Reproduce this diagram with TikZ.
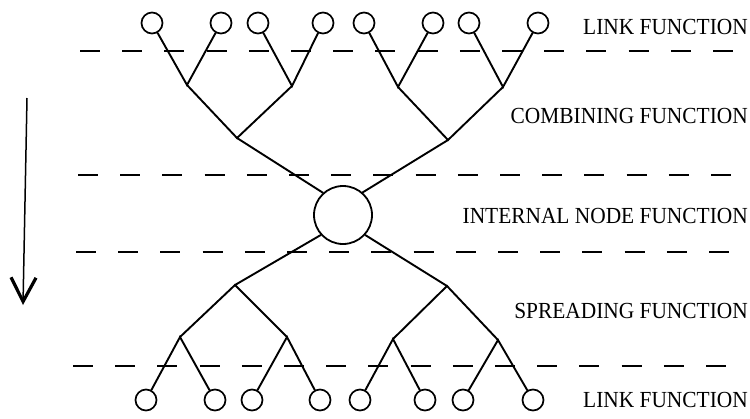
\documentclass[tikz,border=0pt]{standalone}
\usepackage{fontspec}
\setmainfont{Liberation Serif}
\usetikzlibrary{arrows.meta}
\tikzset{
  tree/.style={line width=1.9pt, line cap=round},
  leaf/.style={circle, draw, line width=1.7pt, minimum size=21pt, inner sep=0pt},
  hub/.style={circle, draw, line width=1.8pt, minimum size=58pt, inner sep=0pt},
  sep/.style={line width=2.6pt, dash pattern=on 20pt off 22.2pt},
  lbl/.style={anchor=base east, inner sep=0pt, font=\fontsize{23}{23}\selectfont}
}
\newcommand{\lbltext}[1]{\scalebox{0.93}[1]{#1}}
\begin{document}
\begin{tikzpicture}[x=1pt,y=-1pt]
\useasboundingbox (0,0) rectangle (750,418);

% separators
\draw[sep] (80,51) -- (735,51);
\draw[sep] (78,175) -- (735,175);
\draw[sep] (76,252) -- (735,252);
\draw[sep] (73,366) -- (735,366);

% labels
\node[lbl] (l1) at (748,34) {\lbltext{LINK FUNCTION}};
\node[lbl] (l2) at (748,123) {\lbltext{COMBINING FUNCTION}};
\node[lbl] (l3) at (748,223) {\lbltext{INTERNAL NODE FUNCTION}};
\node[lbl] (l4) at (748,318) {\lbltext{SPREADING FUNCTION}};
\node[lbl] (l5) at (748,407) {\lbltext{LINK FUNCTION}};

% central node
\node[hub] (c) at (343,215) {};

% top leaves
\node[leaf] (t1) at (152,23) {};
\node[leaf] (t2) at (221,23) {};
\node[leaf] (t3) at (258,23) {};
\node[leaf] (t4) at (323,23) {};
\node[leaf] (t5) at (364,23) {};
\node[leaf] (t6) at (433,23) {};
\node[leaf] (t7) at (469,23) {};
\node[leaf] (t8) at (538,23) {};

% top joins
\coordinate (ta) at (187,85);
\coordinate (tb) at (292,86);
\coordinate (tc) at (398,87);
\coordinate (td) at (503,87);
\coordinate (tL) at (237,138);
\coordinate (tR) at (448,140);

\draw[tree] (t1) -- (ta) -- (t2);
\draw[tree] (t3) -- (tb) -- (t4);
\draw[tree] (t5) -- (tc) -- (t6);
\draw[tree] (t7) -- (td) -- (t8);
\draw[tree] (ta) -- (tL) -- (tb);
\draw[tree] (tc) -- (tR) -- (td);
\draw[tree] (tL) -- (c.132);
\draw[tree] (tR) -- (c.49);

% bottom leaves
\node[leaf] (b1) at (146,400) {};
\node[leaf] (b2) at (215,400) {};
\node[leaf] (b3) at (252,400) {};
\node[leaf] (b4) at (320,400) {};
\node[leaf] (b5) at (360,400) {};
\node[leaf] (b6) at (425,400) {};
\node[leaf] (b7) at (463,400) {};
\node[leaf] (b8) at (533,400) {};

% bottom joins
\coordinate (bL) at (235,285);
\coordinate (bR) at (447,286);
\coordinate (ba) at (180,337);
\coordinate (bb) at (287,337);
\coordinate (bc) at (393,339);
\coordinate (bd) at (498,340);

\draw[tree] (c.222) -- (bL);
\draw[tree] (c.318) -- (bR);
\draw[tree] (ba) -- (bL) -- (bb);
\draw[tree] (bc) -- (bR) -- (bd);
\draw[tree] (b1) -- (ba) -- (b2);
\draw[tree] (b3) -- (bb) -- (b4);
\draw[tree] (b5) -- (bc) -- (b6);
\draw[tree] (b7) -- (bd) -- (b8);

% direction arrow
\coordinate (arrTop) at (27,98);
\coordinate (arrTip) at (23,305);
\draw[line width=1.5pt, -{Straight Barb[length=24pt, width=25pt, line width=3.2pt]}] (arrTop) -- (arrTip);
\end{tikzpicture}
\end{document}
